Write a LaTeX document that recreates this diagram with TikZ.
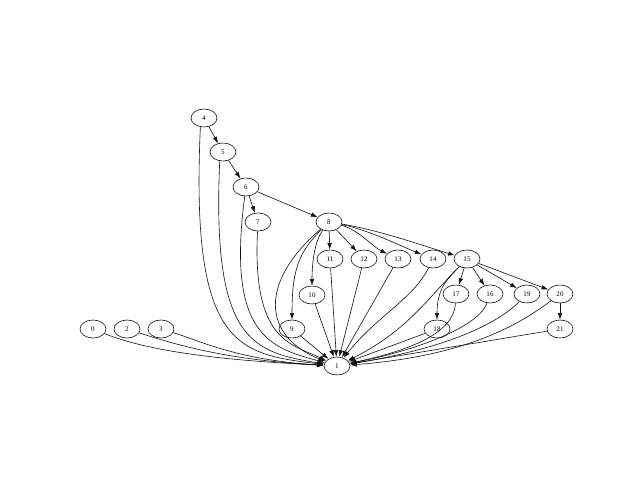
\documentclass[tikz,border=0pt]{standalone}
\usepackage{fontspec}
\setmainfont{Liberation Serif}
\usepackage{tikz}
\usetikzlibrary{arrows.meta,shapes.geometric}
\definecolor{gvedge}{RGB}{20,20,20}

\begin{document}
\begin{tikzpicture}[x=0.02cm,y=-0.02cm,
    vtx/.style={ellipse, draw=gvedge, line width=0.35pt, minimum width=0.52cm,
        minimum height=0.36cm, inner sep=0pt, font=\fontsize{4}{4}\selectfont},
    dep/.style={draw=gvedge, line width=0.35pt, -{Latex[length=3.8pt,width=2.6pt]}}]

\useasboundingbox (0,0) rectangle (640,480);

% =========================
% Nodes
% =========================
\node[vtx] (n0) at (93,329) {0};
\node[vtx] (n2) at (127,329) {2};
\node[vtx] (n3) at (161,329) {3};
\node[vtx] (n4) at (204,118) {4};
\node[vtx] (n5) at (223,152) {5};
\node[vtx] (n6) at (246,187) {6};
\node[vtx] (n7) at (258,222) {7};
\node[vtx] (n8) at (329,222) {8};
\node[vtx] (n9) at (292,329) {9};
\node[vtx] (n10) at (312,295) {10};
\node[vtx] (n11) at (330,259) {11};
\node[vtx] (n12) at (364,259) {12};
\node[vtx] (n13) at (398,259) {13};
\node[vtx] (n14) at (433,259) {14};
\node[vtx] (n15) at (467,259) {15};
\node[vtx] (n17) at (456,294) {17};
\node[vtx] (n16) at (490,294) {16};
\node[vtx] (n19) at (527,294) {19};
\node[vtx] (n20) at (560,294) {20};
\node[vtx] (n18) at (437,329) {18};
\node[vtx] (n21) at (560,329) {21};
\node[vtx] (n1) at (337,366) {1};

% =========================
% Chain and fan-out
% =========================
\draw[dep] (n4) -- (n5);
\draw[dep] (n5) -- (n6);
\draw[dep] (n6) -- (n7);
\draw[dep] (n6) -- (n8);

\draw[dep] (n8) .. controls +(-30,30) and +(0,-60) .. (n9);
\draw[dep] (n8) .. controls +(-15,20) and +(0,-30) .. (n10);
\draw[dep] (n8) -- (n11);
\draw[dep] (n8) -- (n12);
\draw[dep] (n8) .. controls +(30,8) and +(-25,-12) .. (n13);
\draw[dep] (n8) .. controls +(40,8) and +(-30,-12) .. (n14);
\draw[dep] (n8) .. controls +(50,8) and +(-40,-12) .. (n15);

\draw[dep] (n15) -- (n17);
\draw[dep] (n15) -- (n16);
\draw[dep] (n15) -- (n19);
\draw[dep] (n15) -- (n20);
\draw[dep] (n15) .. controls +(-20,20) and +(0,-40) .. (n18);
\draw[dep] (n20) -- (n21);

% =========================
% Everything into 1
% =========================
\foreach \src in {n9,n10,n11,n12,n13,n18,n21}
    \draw[dep] (\src) -- (n1);

\draw[dep] (n0) .. controls +(55,22) and +(-120,-6) .. (n1);
\draw[dep] (n2) .. controls +(50,16) and +(-110,-6) .. (n1);
\draw[dep] (n3) .. controls +(40,12) and +(-100,-6) .. (n1);

\draw[dep] (n4.-112) .. controls +(-10,220) and +(-100,-12) .. (n1);
\draw[dep] (n5.-110) .. controls +(-8,180) and +(-85,-14) .. (n1);
\draw[dep] (n6) .. controls +(-20,150) and +(-65,-18) .. (n1);
\draw[dep] (n7) .. controls +(-6,120) and +(-45,-22) .. (n1);
\draw[dep] (n8) .. controls +(-70,60) and +(-75,-30) .. (n1);
\draw[dep] (n14) .. controls +(-20,40) and +(40,-50) .. (n1);
\draw[dep] (n15) .. controls +(-40,40) and +(70,-35) .. (n1);
\draw[dep] (n17) .. controls +(-2,40) and +(70,-15) .. (n1);
\draw[dep] (n16) .. controls +(-10,30) and +(90,-18) .. (n1);
\draw[dep] (n19) .. controls +(-30,30) and +(110,-18) .. (n1);
\draw[dep] (n20) .. controls +(-40,30) and +(130,-10) .. (n1);

\end{tikzpicture}
\end{document}
